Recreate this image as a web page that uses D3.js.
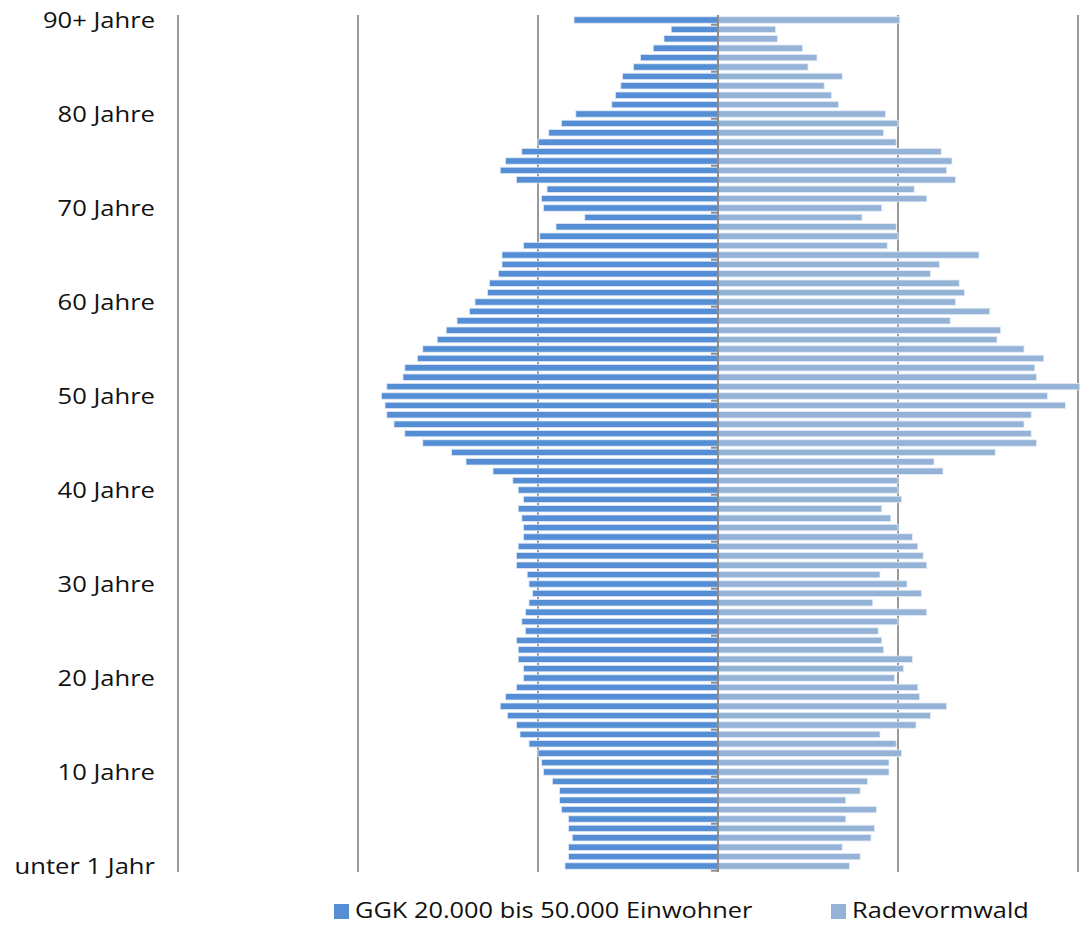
<!DOCTYPE html>
<html>
<head>
<meta charset="utf-8">
<script src="https://cdn.jsdelivr.net/npm/d3@7"></script>
<style>
  html, body { margin: 0; padding: 0; background: #ffffff; }
  svg { display: block; }
  text { font-family: "Open Sans", Lato, sans-serif; fill: #111; }
</style>
</head>
<body>
<svg id="chart" width="1081" height="925"></svg>
<script>
// Age categories (0 .. 89, 90+), bottom to top
const ages = d3.range(91).map(i => i === 90 ? "90+" : String(i));

// Tick labels shown on the age axis
const ageTickLabels = {
  "0": "unter 1 Jahr", "10": "10 Jahre", "20": "20 Jahre", "30": "30 Jahre",
  "40": "40 Jahre", "50": "50 Jahre", "60": "60 Jahre", "70": "70 Jahre",
  "80": "80 Jahre", "90+": "90+ Jahre"
};

// Share of population per age year (%), age 0 .. 90+
const ggkValues = [
  0.85, 0.83, 0.83, 0.81, 0.83, 0.83, 0.87, 0.88, 0.88, 0.92,
  0.97, 0.98, 1.00, 1.05, 1.10, 1.12, 1.17, 1.21, 1.18, 1.12,
  1.08, 1.08, 1.11, 1.11, 1.12, 1.07, 1.09, 1.07, 1.05, 1.03,
  1.05, 1.06, 1.12, 1.12, 1.11, 1.08, 1.08, 1.09, 1.11, 1.08,
  1.11, 1.14, 1.25, 1.40, 1.48, 1.64, 1.74, 1.80, 1.84, 1.85,
  1.87, 1.84, 1.75, 1.74, 1.67, 1.64, 1.56, 1.51, 1.45, 1.38,
  1.35, 1.28, 1.27, 1.22, 1.20, 1.20, 1.08, 0.99, 0.90, 0.74,
  0.97, 0.98, 0.95, 1.12, 1.21, 1.18, 1.09, 1.00, 0.94, 0.87,
  0.79, 0.59, 0.57, 0.54, 0.53, 0.47, 0.43, 0.36, 0.30, 0.26,
  0.80
];
const radeValues = [
  0.73, 0.79, 0.69, 0.85, 0.87, 0.71, 0.88, 0.71, 0.79, 0.83,
  0.95, 0.95, 1.02, 0.99, 0.90, 1.10, 1.18, 1.27, 1.12, 1.11,
  0.98, 1.03, 1.08, 0.92, 0.91, 0.89, 1.00, 1.16, 0.86, 1.13,
  1.05, 0.90, 1.16, 1.14, 1.11, 1.08, 1.00, 0.96, 0.91, 1.02,
  1.00, 1.00, 1.25, 1.20, 1.54, 1.77, 1.74, 1.70, 1.74, 1.93,
  1.83, 2.01, 1.77, 1.76, 1.81, 1.70, 1.55, 1.57, 1.29, 1.51,
  1.32, 1.37, 1.34, 1.18, 1.23, 1.45, 0.94, 1.00, 0.99, 0.80,
  0.91, 1.16, 1.09, 1.32, 1.27, 1.30, 1.24, 0.99, 0.92, 1.00,
  0.93, 0.67, 0.63, 0.59, 0.69, 0.50, 0.55, 0.47, 0.33, 0.32,
  1.01
];

const seriesNames = ["GGK 20.000 bis 50.000 Einwohner", "Radevormwald"];
const seriesColors = ["#558ed5", "#95b3d7"];
const gridTicks = [-3, -2, -1, 0, 1, 2];

const svg = d3.select("#chart");
const textStretch = 1.19;   // text in the reference is drawn horizontally widened

const x = d3.scaleLinear().domain([-3, 2]).range([178, 1078]);
const y = d3.scaleBand()
  .domain(ages.slice().reverse())
  .range([15.3, 870.7])
  .paddingInner(0.32)
  .paddingOuter(0.16);

// Vertical gridlines
svg.append("g")
  .selectAll("line")
  .data(gridTicks.filter(t => t !== 0))
  .join("line")
  .attr("x1", d => x(d)).attr("x2", d => x(d))
  .attr("y1", 15).attr("y2", 872)
  .attr("stroke", "#999999")
  .attr("stroke-width", 2);

// Bars
const rows = ages.map((a, i) => ({ age: a, ggk: ggkValues[i], rade: radeValues[i] }));

svg.append("g")
  .selectAll("rect")
  .data(rows)
  .join("rect")
  .attr("x", d => x(-d.ggk))
  .attr("y", d => y(d.age))
  .attr("width", d => x(0) - x(-d.ggk))
  .attr("height", y.bandwidth())
  .attr("fill", seriesColors[0])
  .attr("stroke", "#dfe8f5")
  .attr("stroke-width", 0.8);

svg.append("g")
  .selectAll("rect")
  .data(rows)
  .join("rect")
  .attr("x", x(0))
  .attr("y", d => y(d.age))
  .attr("width", d => x(d.rade) - x(0))
  .attr("height", y.bandwidth())
  .attr("fill", seriesColors[1])
  .attr("stroke", "#e3ebf5")
  .attr("stroke-width", 0.8);

// Central category axis with tick marks every 5 categories (counted from bottom)
const step = y.step();
const axisG = svg.append("g");
axisG.append("line")
  .attr("x1", x(0)).attr("x2", x(0))
  .attr("y1", 15).attr("y2", 872)
  .attr("stroke", "#8c8c8c")
  .attr("stroke-width", 2);
axisG.selectAll("line.tick")
  .data(ages.filter((a, i) => i % 5 === 0))
  .join("line")
  .attr("class", "tick")
  .attr("x1", x(0) - 7).attr("x2", x(0))
  .attr("y1", d => y(d) + y.bandwidth() / 2 + step / 2)
  .attr("y2", d => y(d) + y.bandwidth() / 2 + step / 2)
  .attr("stroke", "#8c8c8c")
  .attr("stroke-width", 2);

// Age labels
svg.append("g")
  .selectAll("text")
  .data(Object.keys(ageTickLabels))
  .join("text")
  .attr("transform", d => `translate(155,${y(d) + y.bandwidth() / 2}) scale(${textStretch},1)`)
  .attr("dy", "0.36em")
  .attr("text-anchor", "end")
  .attr("font-size", 21.5)
  .text(d => ageTickLabels[d]);

// Legend
const legendX = [334, 831];
const lg = svg.append("g");
seriesNames.forEach((name, i) => {
  lg.append("rect")
    .attr("x", legendX[i]).attr("y", 904)
    .attr("width", 15).attr("height", 15)
    .attr("fill", seriesColors[i]);
  lg.append("text")
    .attr("transform", `translate(${legendX[i] + 21},918.4) scale(${textStretch},1)`)
    .attr("font-size", 21.3)
    .text(name);
});
</script>
</body>
</html>
